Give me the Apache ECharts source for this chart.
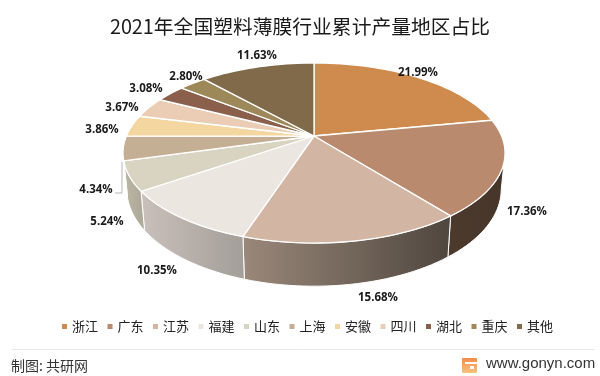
<!DOCTYPE html>
<html>
<head>
<meta charset="utf-8">
<style>
  html, body { margin: 0; padding: 0; background: #fff; }
  #main { width: 600px; height: 376px; }
</style>
<script src="https://cdn.jsdelivr.net/npm/echarts@6/dist/echarts.min.js"></script>
</head>
<body>
<div id="main"></div>
<script>
var regions = ["浙江", "广东", "江苏", "福建", "山东", "上海", "安徽", "四川", "湖北", "重庆", "其他"];
var shares = [21.99, 17.36, 15.68, 10.35, 5.24, 4.34, 3.86, 3.67, 3.08, 2.80, 11.63];

var topColors = ["#CF8B4E", "#B98A6D", "#D2B6A3", "#ECE6E1", "#D8D4C1", "#C4AE94", "#F4D6A0", "#EACDB4", "#8A5F4C", "#9C8858", "#816A49"];
var sideColors = {
  1: ["#4c3a2c", "#46352a"],
  2: ["#9a887a", "#4f463e"],
  3: ["#cbc0bb", "#a29e98"],
  4: ["#bdb7a5", "#aaa696"],
  5: ["#b0a692", "#b0a692"]
};
// label centres, picked by eye from the layout
var labelPos = [[418, 73], [527, 212], [378, 298], [157, 271], [107, 222], [96, 190], [102, 130], [122, 108], [146, 89], [186, 77], [257, 56]];

// perspective of the tilted disc
var cx = 314, cy = 136, R = 187.6;
var persp = -0.189, tilt = 61.1, depth = 35, bottomScale = 0.98;

function project(deg, lower) {
  var t = deg * Math.PI / 180;
  var u = Math.sin(t), v = -Math.cos(t);
  var w = 1 + persp * v;
  var s = lower ? bottomScale : 1;
  return [
    cx + s * R * u / w,
    (cy + tilt * v) / w + (lower ? depth / w : 0)
  ];
}

function arc(from, to, lower) {
  var pts = [];
  var n = Math.max(2, Math.ceil(Math.abs(to - from) / 2));
  for (var i = 0; i <= n; i++) {
    pts.push(project(from + (to - from) * i / n, lower));
  }
  return pts;
}

var total = shares.reduce(function (a, b) { return a + b; }, 0);
var sideFrom = 101, sideTo = 259;

function sliceRenderer(idx) {
  return function (params, api) {
    var before = 0;
    for (var i = 0; i < idx; i++) before += shares[i];
    var a0 = before / total * 360;
    var a1 = (before + api.value(0)) / total * 360;
    var children = [];

    var s0 = Math.max(a0, sideFrom), s1 = Math.min(a1, sideTo);
    if (s1 > s0 && sideColors[idx]) {
      var wall = arc(s0, s1, false).concat(arc(s1, s0, true));
      children.push({
        type: "polygon",
        shape: { points: wall },
        style: {
          fill: new echarts.graphic.LinearGradient(0, 0, 1, 0, [
            { offset: 0, color: sideColors[idx][0] },
            { offset: 1, color: sideColors[idx][1] }
          ]),
          stroke: "#fff",
          lineWidth: 1
        }
      });
    }

    children.push({
      type: "polygon",
      shape: { points: [[cx, cy]].concat(arc(a0, a1, false)) },
      style: { fill: topColors[idx], stroke: "#fff", lineWidth: 1.3 }
    });

    if (idx === 5) {
      // 上海 has a leader line in the original
      children.push({
        type: "polyline",
        shape: { points: [[122, 162], [122, 193], [115, 193]] },
        style: { fill: "none", stroke: "#b5b5b5", lineWidth: 1 }
      });
    }

    children.push({
      type: "text",
      style: {
        x: labelPos[idx][0],
        y: labelPos[idx][1],
        text: api.value(0).toFixed(2) + "%",
        fill: "#1a1a1a",
        font: "bold 11.5px 'Open Sans'",
        align: "center",
        verticalAlign: "middle"
      }
    });

    return { type: "group", children: children };
  };
}

var series = regions.map(function (name, i) {
  return {
    name: name,
    type: "custom",
    coordinateSystem: "none",
    renderItem: sliceRenderer(i),
    itemStyle: { color: topColors[i] },
    data: [[shares[i]]],
    animation: false,
    silent: true
  };
});

var chart = echarts.init(document.getElementById("main"));
chart.setOption({
  backgroundColor: "#fff",
  animation: false,
  title: {
    text: "2021年全国塑料薄膜行业累计产量地区占比",
    left: "center",
    top: 12,
    textStyle: {
      fontFamily: "Noto Sans CJK SC",
      fontSize: 19.8,
      fontWeight: "normal",
      color: "#1a1a1a"
    }
  },
  legend: {
    data: regions,
    left: 57,
    top: 315,
    icon: "rect",
    itemWidth: 5,
    itemHeight: 5,
    itemGap: 9.5,
    textStyle: { fontFamily: "Noto Sans CJK SC", fontSize: 13, color: "#222" }
  },
  graphic: [
    { type: "line", shape: { x1: 12, y1: 349.5, x2: 595, y2: 349.5 }, style: { stroke: "#e8e8e8", lineWidth: 1 } },
    { type: "text", x: 11, y: 366, style: { text: "制图: 共研网", fill: "#333", font: "14px 'Noto Sans CJK SC'", verticalAlign: "middle" } },
    {
      type: "rect",
      shape: { x: 462, y: 358, width: 15, height: 15, r: 1 },
      style: {
        fill: new echarts.graphic.LinearGradient(0, 0, 0, 1, [
          { offset: 0, color: "#f28c4a" },
          { offset: 1, color: "#f9c27d" }
        ])
      }
    },
    { type: "rect", shape: { x: 465, y: 362, width: 12, height: 2 }, style: { fill: "#fff" } },
    { type: "rect", shape: { x: 470, y: 366, width: 4, height: 3 }, style: { fill: "#fff" } },
    { type: "text", x: 486, y: 364, style: { text: "www.gonyn.com", fill: "#333", font: "15px 'Liberation Sans'", verticalAlign: "middle" } }
  ],
  series: series
});
</script>
</body>
</html>
